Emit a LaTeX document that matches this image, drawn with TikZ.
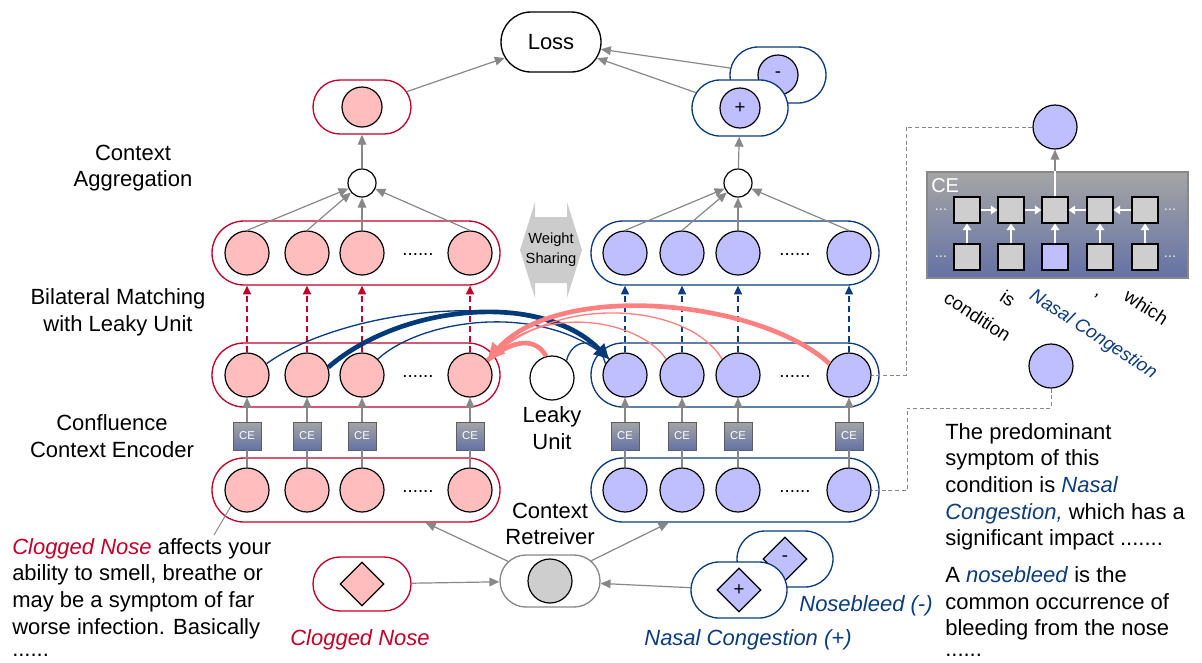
\documentclass[tikz,border=0pt]{standalone}
\usepackage{fontspec}
\setmainfont{Liberation Sans}
\usetikzlibrary{arrows.meta,shapes.geometric,shapes.misc,calc}
\definecolor{rs}{RGB}{192,0,40}
\definecolor{rf}{RGB}{255,189,189}
\definecolor{bs}{RGB}{12,60,125}
\definecolor{bf}{RGB}{191,191,255}
\definecolor{ga}{RGB}{136,136,136}
\definecolor{sal}{RGB}{255,128,128}
\definecolor{navy}{RGB}{0,58,120}
\definecolor{ceTop}{RGB}{165,165,165}
\definecolor{ceBot}{RGB}{100,114,165}
\definecolor{sq}{RGB}{206,206,206}
\begin{document}
\begin{tikzpicture}[x=0.75pt,y=-0.75pt,
  every node/.style={inner sep=0pt},
  big/.style={font=\fontsize{16.5}{20}\selectfont},
  mid/.style={font=\fontsize{14}{17}\selectfont},
  pillR/.style={rounded rectangle, draw=rs, line width=1pt, fill=white, minimum width=216pt, minimum height=48pt},
  pillB/.style={rounded rectangle, draw=bs, line width=1pt, fill=white, minimum width=216pt, minimum height=48pt},
  smallR/.style={rounded rectangle, draw=rs, line width=1pt, fill=white, minimum width=73.5pt, minimum height=40.5pt},
  smallB/.style={rounded rectangle, draw=bs, line width=1pt, fill=white, minimum width=72pt, minimum height=42pt},
  cR/.style={circle, draw=black, line width=0.9pt, fill=rf, minimum size=33pt},
  cB/.style={circle, draw=black, line width=0.9pt, fill=bf, minimum size=33pt},
  cW/.style={circle, draw=black, line width=0.9pt, fill=white, minimum size=33pt},
  dia/.style={diamond, draw=black, line width=0.9pt, minimum width=33pt, minimum height=33pt, font=\fontsize{14}{14}\selectfont},
  gar/.style={draw=ga, line width=0.9pt, -{Triangle[length=7.5pt,width=6.5pt]}},
  gline/.style={draw=ga, line width=0.9pt},
  dR/.style={draw=rs, line width=0.9pt, dash pattern=on 4.5pt off 3pt, -{Triangle[length=6.5pt,width=6pt]}},
  dB/.style={draw=bs, line width=0.9pt, dash pattern=on 4.5pt off 3pt, -{Triangle[length=6.5pt,width=6pt]}},
  ce/.style={draw=ga!70!black, line width=0.6pt, top color=ceTop, bottom color=ceBot, minimum size=21pt, text=white, font=\fontsize{8.5}{9}\selectfont},
  sqr/.style={draw=black, line width=0.8pt, fill=sq, minimum size=19.5pt},
  warr/.style={draw=white, line width=1.3pt, -{Triangle[length=5pt,width=6.5pt]}},
  gdash/.style={draw=ga, line width=0.7pt, dash pattern=on 3pt off 2pt},
  dots/.style={font=\fontsize{14}{14}\selectfont}
]
\useasboundingbox (0,0) rectangle (1202,662);

% ---------- rows ----------
\node[pillR] (topL) at (356,253) {};
\node[pillB] (topR) at (735,253) {};
\node[pillR] (midL) at (356,375) {};
\node[pillB] (midR) at (735,375) {};
\node[pillR] (encL) at (356,490) {};
\node[pillB] (encR) at (735,490) {};

\foreach \n/\x in {1/247,2/307,3/362,4/470}{
  \node[cR] (tL\n) at (\x,253) {};
  \node[cR] (bL\n) at (\x,375) {};
  \node[cR] (eL\n) at (\x,490) {};
  \node[ce] (ceL\n) at (\x,436) {CE};
}
\foreach \n/\x in {1/625,2/682,3/738,4/849}{
  \node[cB] (tR\n) at (\x,253) {};
  \node[cB] (bR\n) at (\x,375) {};
  \node[cB] (eR\n) at (\x,490) {};
  \node[ce] (ceR\n) at (\x,436) {CE};
}
\foreach \y in {253,375,490}{
  \node[dots] at (418,\y+1) {......};
  \node[dots] at (795,\y+1) {......};
}

% CE connections
\foreach \n in {1,2,3,4}{
  \draw[gline] (eL\n) -- (ceL\n);
  \draw[gar] (ceL\n) -- (bL\n);
  \draw[gline] (eR\n) -- (ceR\n);
  \draw[gar] (ceR\n) -- (bR\n);
  \draw[dR] (bL\n.north) -- (bL\n.north |- topL.south);
  \draw[dB] (bR\n.north) -- (bR\n.north |- topR.south);
}

% ---------- aggregation ----------
\node[circle, draw=black, line width=0.9pt, fill=white, minimum size=21pt] (aggL) at (362,183) {};
\node[circle, draw=black, line width=0.9pt, fill=white, minimum size=21pt] (aggR) at (738,183) {};
\foreach \n in {1,2,4}{
  \draw[gar] (tL\n.north) -- (aggL);
  \draw[gar] (tR\n.north) -- (aggR);
}
\draw[gar] (tL3) -- (aggL);
\draw[gar] (tR3) -- (aggR);

% ---------- outputs ----------
\node[smallR] (outL) at (362,107) {};
\node[circle, draw=black, line width=0.9pt, fill=rf, minimum size=30pt] (oL) at (362,107) {};
\node[smallB] (minus) at (778,75) {};
\node[circle, draw=black, line width=0.9pt, fill=bf, minimum size=30pt, font=\fontsize{14}{14}\selectfont] (mC) at (778,75) {-};
\node[smallB] (plus) at (740,108) {};
\node[circle, draw=black, line width=0.9pt, fill=bf, minimum size=30pt, font=\fontsize{14}{14}\selectfont] (pC) at (740,108) {+};
\draw[gar] (aggL) -- (outL);
\draw[gar] (aggR) -- (plus);

\node[rounded rectangle, draw=black, line width=1pt, fill=white, minimum width=75pt, minimum height=45pt, big] (loss) at (551,42) {Loss};
\draw[gar] (outL) -- (loss);
\draw[gar] (minus) -- (loss);
\draw[gar] (plus) -- (loss);

% ---------- weight sharing ----------
\fill[gray!40] (520,250) -- (535,202) -- (535,217) -- (567,217) -- (567,202) -- (582,250)
  -- (567,298) -- (567,283) -- (535,283) -- (535,298) -- cycle;
\node[align=center, font=\fontsize{11}{15}\selectfont] (ws) at (551,250) {Weight\\Sharing};

% ---------- leaky unit ----------
\node[cW] (leaky) at (552,378) {};
\node[big, align=center] (leakyT) at (552,428) {Leaky\\Unit};

% blue matching curves
\draw[bs, line width=1pt] (bL1.30) .. controls (340,310) and (540,280) .. (bR1.north west);
\draw[bs, line width=1pt] (bL3.45) .. controls (420,320) and (540,300) .. (bR1.north west);
\draw[bs, line width=1pt] (leaky.50) .. controls (572,338) and (598,335) .. (bR1.150);
\draw[navy, line width=3.5pt, -{Triangle[length=11pt,width=11pt]}] (bL2.20) .. controls (400,305) and (540,290) .. (bR1.north west);
% salmon curves
\draw[sal, line width=1pt] (bR2.135) .. controls (640,320) and (540,300) .. (bL4.40);
\draw[sal, line width=1pt] (bR3.135) .. controls (690,305) and (560,290) .. (bL4.40);
\draw[sal, line width=3.5pt] (leaky.105) .. controls (536,338) and (515,338) .. (bL4.40);
\draw[sal, line width=3.5pt, -{Triangle[length=13pt,width=12pt]}] (bR4.150) .. controls (760,300) and (560,280) .. (bL4.40);

% ---------- retriever ----------
\node[rounded rectangle, draw=ga, line width=1pt, fill=white, minimum width=75pt, minimum height=39pt] (ret) at (550,581) {};
\node[circle, draw=black, line width=0.9pt, fill=sq, minimum size=33pt] (retC) at (550,581) {};
\node[big, align=center] (retT) at (550,524) {Context\\Retreiver};

\node[smallR] (clog) at (362,584) {};
\node[dia, fill=rf] (clogD) at (362,584) {};
\node[smallB] (nbox) at (785,559) {};
\node[dia, fill=bf] (nD) at (785,559) {-};
\node[smallB] (pbox) at (739,590) {};
\node[dia, fill=bf] (pD) at (739,590) {+};

\draw[gar] (clog) -- (ret);
\draw[gar] (pbox) -- (ret);
\draw[gar] (ret) -- (encL);
\draw[gar] (ret) -- (encR);

\node[text=rs, font=\fontsize{16.5}{20}\selectfont\itshape] (clogT) at (360,640) {Clogged Nose};
\node[text=bs, font=\fontsize{16.5}{20}\selectfont\itshape] (ncT) at (748,640) {Nasal Congestion (+)};
\node[text=bs, font=\fontsize{16.5}{20}\selectfont\itshape] (nbT) at (866,606) {Nosebleed (-)};

% ---------- left labels ----------
\node[big, align=center] (lab1) at (133,168) {Context\\Aggregation};
\node[big, align=center] (lab2) at (118,312) {Bilateral Matching\\with Leaky Unit};
\node[big, align=center] (lab3) at (112,436) {Confluence\\Context Encoder};

% ---------- left paragraph ----------
\coordinate (pl) at (214,535);
\draw[gline, line width=0.7pt] (eL1.south west) -- (pl);
\node[big, anchor=base west] (p1) at (12,554) {\textcolor{rs}{\textit{Clogged Nose}} affects your};
\node[big, anchor=base west] (p2) at (12,580) {ability to smell, breathe or};
\node[big, anchor=base west] (p3) at (12,607) {may be a symptom of far};
\node[big, anchor=base west] (p4) at (12,634) {worse infection. Basically};
\node[big, anchor=base west] (p5) at (12,656) {......};

% ---------- CE detail ----------
\node[draw=ga, line width=0.8pt, top color=ceTop, bottom color=ceBot, minimum width=195.75pt, minimum height=79.5pt] (cebox) at (1057.5,225) {};
\node[anchor=west, text=white, font=\fontsize{15}{15}\selectfont] (ceT) at (931,186) {CE};
\foreach \n/\x in {1/967,2/1011,3/1055,4/1100,5/1145}{
  \node[sqr] (t\n) at (\x,210) {};
  \node[sqr] (u\n) at (\x,257) {};
}
\node[sqr, fill=bf] at (u3) {};
\foreach \n in {1,...,5}{ \draw[warr] (u\n) -- (t\n); }
\draw[warr] (t1) -- (t2);
\draw[warr] (t2) -- (t3);
\draw[warr] (t4) -- (t3);
\draw[warr] (t5) -- (t4);
\foreach \y in {210,257}{
  \node[text=gray!15, font=\fontsize{11}{11}\selectfont] at (941,\y) {...};
  \node[text=gray!15, font=\fontsize{11}{11}\selectfont] at (1170,\y) {...};
}
\node[cB] (ceOut) at (1055,127) {};
\draw[gar] (t3) -- (ceOut);
\draw[white, line width=1.2pt] (t3.north) -- (t3.north |- cebox.north);

\node[mid, anchor=north west, rotate=-33] (w1) at (950,290) {condition};
\node[mid, anchor=north west, rotate=-33] (w2) at (1006,289) {is};
\node[anchor=north west, rotate=-33, text=bs, font=\fontsize{14}{17}\selectfont\itshape] (w3) at (1036,287) {Nasal Congestion};
\node[mid, anchor=north west, rotate=-33] (w4) at (1095,292) {,};
\node[mid, anchor=north west, rotate=-33] (w5) at (1130,288) {which};

\node[cB] (ceOut2) at (1051,366) {};
\coordinate (cc1) at (906,250);
\coordinate (cc2) at (907,408);
\draw[gdash] (ceOut.west) -| (cc1) |- (bR4.east);
\draw[gdash] (ceOut2.south) |- (cc2) |- (eR4.east);

% ---------- right paragraph ----------
\node[big, anchor=base west] (r1) at (945,439) {The predominant};
\node[big, anchor=base west] (r2) at (945,465) {symptom of this};
\node[big, anchor=base west] (r3) at (945,492) {condition is \textcolor{bs}{\textit{Nasal}}};
\node[big, anchor=base west] (r4) at (945,519) {\textcolor{bs}{\textit{Congestion,}} which has a};
\node[big, anchor=base west] (r5) at (945,545) {significant impact .......};
\node[big, anchor=base west] (r6) at (945,582) {A \textcolor{bs}{\textit{nosebleed}} is the};
\node[big, anchor=base west] (r7) at (945,609) {common occurrence of};
\node[big, anchor=base west] (r8) at (945,635) {bleeding from the nose};
\node[big, anchor=base west] (r9) at (945,656) {......};
\end{tikzpicture}
\end{document}
